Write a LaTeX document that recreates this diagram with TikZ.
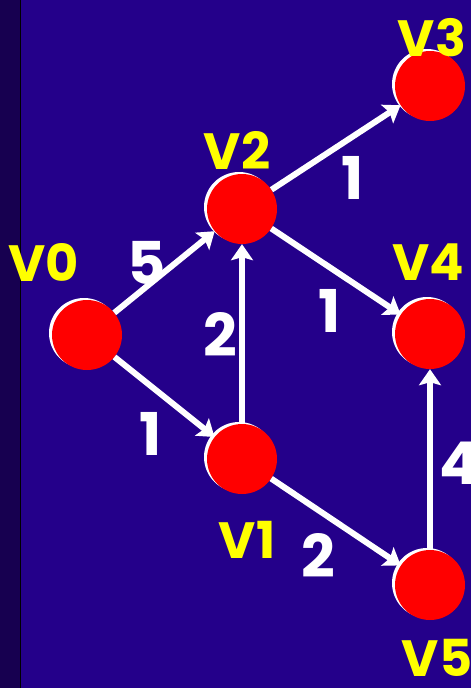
\documentclass[tikz,border=0pt]{standalone}
\usepackage{fontspec}
\setmainfont{Poppins}
\usetikzlibrary{arrows.meta}
\definecolor{bgblue}{HTML}{24008A}
\definecolor{stripcol}{HTML}{170050}
\definecolor{lblyellow}{HTML}{FFFF00}
\begin{document}
\begin{tikzpicture}[x=1pt,y=-1pt,
  vertex/.style={circle,fill=red,minimum size=70pt,inner sep=0pt},
  glow/.style={circle,fill=white,minimum size=70pt,inner sep=0pt},
  vlabel/.style={text=lblyellow,font=\fontsize{51}{51}\selectfont\bfseries,inner sep=0pt},
  weight/.style={text=white,font=\fontsize{59}{59}\selectfont\bfseries,inner sep=0pt},
  edge/.style={white,line width=6pt,-{Stealth[length=16pt,width=22pt,inset=3pt]}}]
\useasboundingbox (0,0) rectangle (471,688);
\fill[bgblue] (0,0) rectangle (471,688);
\fill[stripcol] (0,0) rectangle (20,688);
\draw[black,line width=1pt] (20.5,0) -- (20.5,688);
% highlights
\node[glow] (g0) at (84,333) {};
\node[glow] (g1) at (239,457) {};
\node[glow] (g2) at (239,207) {};
\node[glow] (g3) at (427,84) {};
\node[glow] (g4) at (427,332) {};
\node[glow] (g5) at (427,583) {};
% vertices
\node[vertex] (v0) at (87,335) {};
\node[vertex] (v1) at (242,459) {};
\node[vertex] (v2) at (242,209) {};
\node[vertex] (v3) at (430,86) {};
\node[vertex] (v4) at (430,334) {};
\node[vertex] (v5) at (430,585) {};
% edges
\draw[edge] (v0) -- (v2);
\draw[edge] (v0) -- (v1);
\draw[edge] (v1) -- (v2);
\draw[edge] (v2) -- (v3);
\draw[edge] (v2) -- (v4);
\draw[edge] (v1) -- (v5);
\draw[edge] (v5) -- (v4);
% vertex labels
\node[vlabel] (l0) at (44,262) {V0};
\node[vlabel] (l1) at (247,540) {V1};
\node[vlabel] (l2) at (237,150) {V2};
\node[vlabel] (l3) at (432,38) {V3};
\node[vlabel] (l4) at (428,262) {V4};
\node[vlabel] (l5) at (437,658) {V5};
% weights
\node[weight] (w02) at (147,263) {5};
\node[weight] (w23) at (353,178) {1};
\node[weight] (w12) at (220,334) {2};
\node[weight] (w24) at (330,311) {1};
\node[weight] (w01) at (151,434) {1};
\node[weight] (w54) at (459,463) {4};
\node[weight] (w15) at (318,555) {2};
\end{tikzpicture}
\end{document}
